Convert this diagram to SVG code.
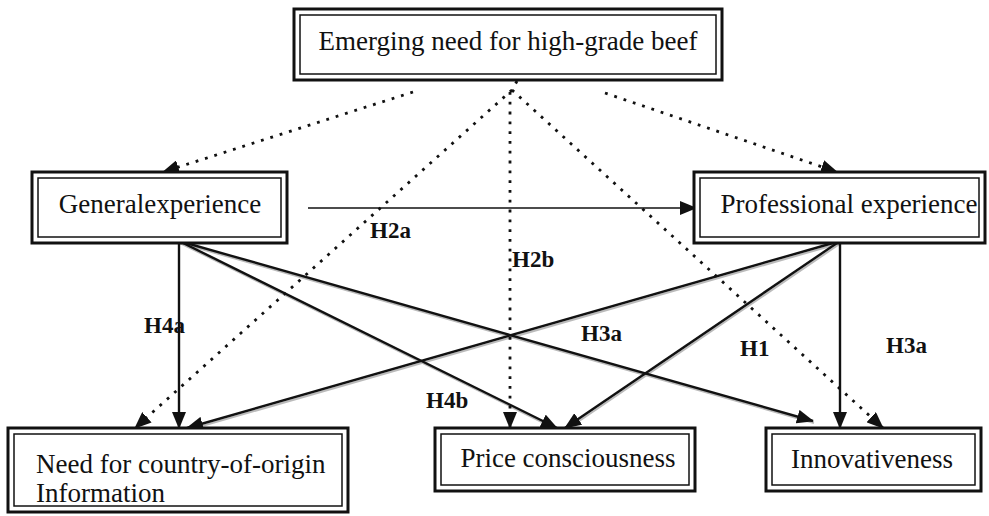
<svg xmlns="http://www.w3.org/2000/svg" width="989" height="516" viewBox="0 0 989 516">
<style>
.outer{fill:#fff;stroke:#111;stroke-width:3}
.inner{fill:none;stroke:#111;stroke-width:1.5}
.t{font-family:"Liberation Serif","Times New Roman",serif;font-size:27px;fill:#111}
.lab{font-family:"Liberation Serif","Times New Roman",serif;font-size:23px;font-weight:bold;fill:#111}
.solid{stroke:#111;stroke-width:2.4;fill:none}
.thin{stroke:#111;stroke-width:1.5;fill:none}
.dot{stroke:#111;stroke-width:2.8;fill:none;stroke-dasharray:2.8 7}
.shadow{stroke:#bbb;stroke-width:2;fill:none}
</style>
<defs>
<marker id="ah" markerUnits="userSpaceOnUse" markerWidth="18" markerHeight="14" refX="16" refY="7" orient="auto">
<path d="M0,0 L17,7 L0,14 Z" fill="#111"/>
</marker>
</defs>
<rect width="989" height="516" fill="#fff"/>
<g id="connectors">
<g class="shadow">
<line x1="180" y1="243" x2="558" y2="430"/>
<line x1="180" y1="243" x2="814" y2="423"/>
<line x1="841" y1="243" x2="566" y2="430"/>
<line x1="841" y1="243" x2="188" y2="430"/>
</g>
<line class="dot" x1="413" y1="92" x2="163" y2="172" marker-end="url(#ah)"/>
<line class="dot" x1="605" y1="93" x2="837" y2="172" marker-end="url(#ah)"/>
<line class="dot" x1="517" y1="81" x2="512" y2="90"/>
<line class="dot" x1="512" y1="90" x2="135" y2="428" marker-end="url(#ah)"/>
<line class="dot" x1="510" y1="92" x2="510" y2="428" marker-end="url(#ah)"/>
<line class="dot" x1="512" y1="90" x2="883" y2="428" marker-end="url(#ah)"/>
<line class="thin" x1="308" y1="208" x2="696" y2="208" marker-end="url(#ah)"/>
<line class="solid" x1="179" y1="241" x2="179" y2="428" marker-end="url(#ah)"/>
<line class="solid" x1="179" y1="241" x2="557" y2="428" marker-end="url(#ah)"/>
<line class="solid" x1="179" y1="241" x2="813" y2="421" marker-end="url(#ah)"/>
<line class="solid" x1="840" y1="241" x2="840" y2="428" marker-end="url(#ah)"/>
<line class="solid" x1="840" y1="241" x2="565" y2="428" marker-end="url(#ah)"/>
<line class="solid" x1="840" y1="241" x2="187" y2="428" marker-end="url(#ah)"/>
</g>
<g id="labels">
<text class="lab" x="370" y="238">H2a</text>
<text class="lab" x="512" y="267">H2b</text>
<text class="lab" x="144" y="333">H4a</text>
<text class="lab" x="426" y="408">H4b</text>
<text class="lab" x="581" y="341">H3a</text>
<text class="lab" x="740" y="356">H1</text>
<text class="lab" x="886" y="353">H3a</text>
</g>
<g id="node-emerging">
<rect class="outer" x="294" y="9" width="428" height="71"/>
<rect class="inner" x="300" y="15" width="416" height="59"/>
<text class="t" x="508" y="50" text-anchor="middle">Emerging need for high-grade beef</text>
</g>
<g id="node-general">
<rect class="outer" x="32" y="172" width="255" height="71"/>
<rect class="inner" x="38" y="178" width="243" height="59"/>
<text class="t" x="160" y="213" text-anchor="middle">Generalexperience</text>
</g>
<g id="node-professional">
<rect class="outer" x="694" y="172" width="291" height="71"/>
<rect class="inner" x="700" y="178" width="279" height="59"/>
<text class="t" x="849" y="213" text-anchor="middle">Professional experience</text>
</g>
<g id="node-coo">
<rect class="outer" x="8" y="428" width="340" height="84"/>
<rect class="inner" x="14" y="434" width="328" height="72"/>
<text class="t" x="36" y="473">Need for country-of-origin</text>
<text class="t" x="36" y="502">Information</text>
</g>
<g id="node-price">
<rect class="outer" x="435" y="428" width="260" height="63"/>
<rect class="inner" x="441" y="434" width="248" height="51"/>
<text class="t" x="568" y="467" text-anchor="middle">Price consciousness</text>
</g>
<g id="node-innov">
<rect class="outer" x="766" y="428" width="215" height="63"/>
<rect class="inner" x="772" y="434" width="203" height="51"/>
<text class="t" x="872" y="468" text-anchor="middle">Innovativeness</text>
</g>
</svg>
